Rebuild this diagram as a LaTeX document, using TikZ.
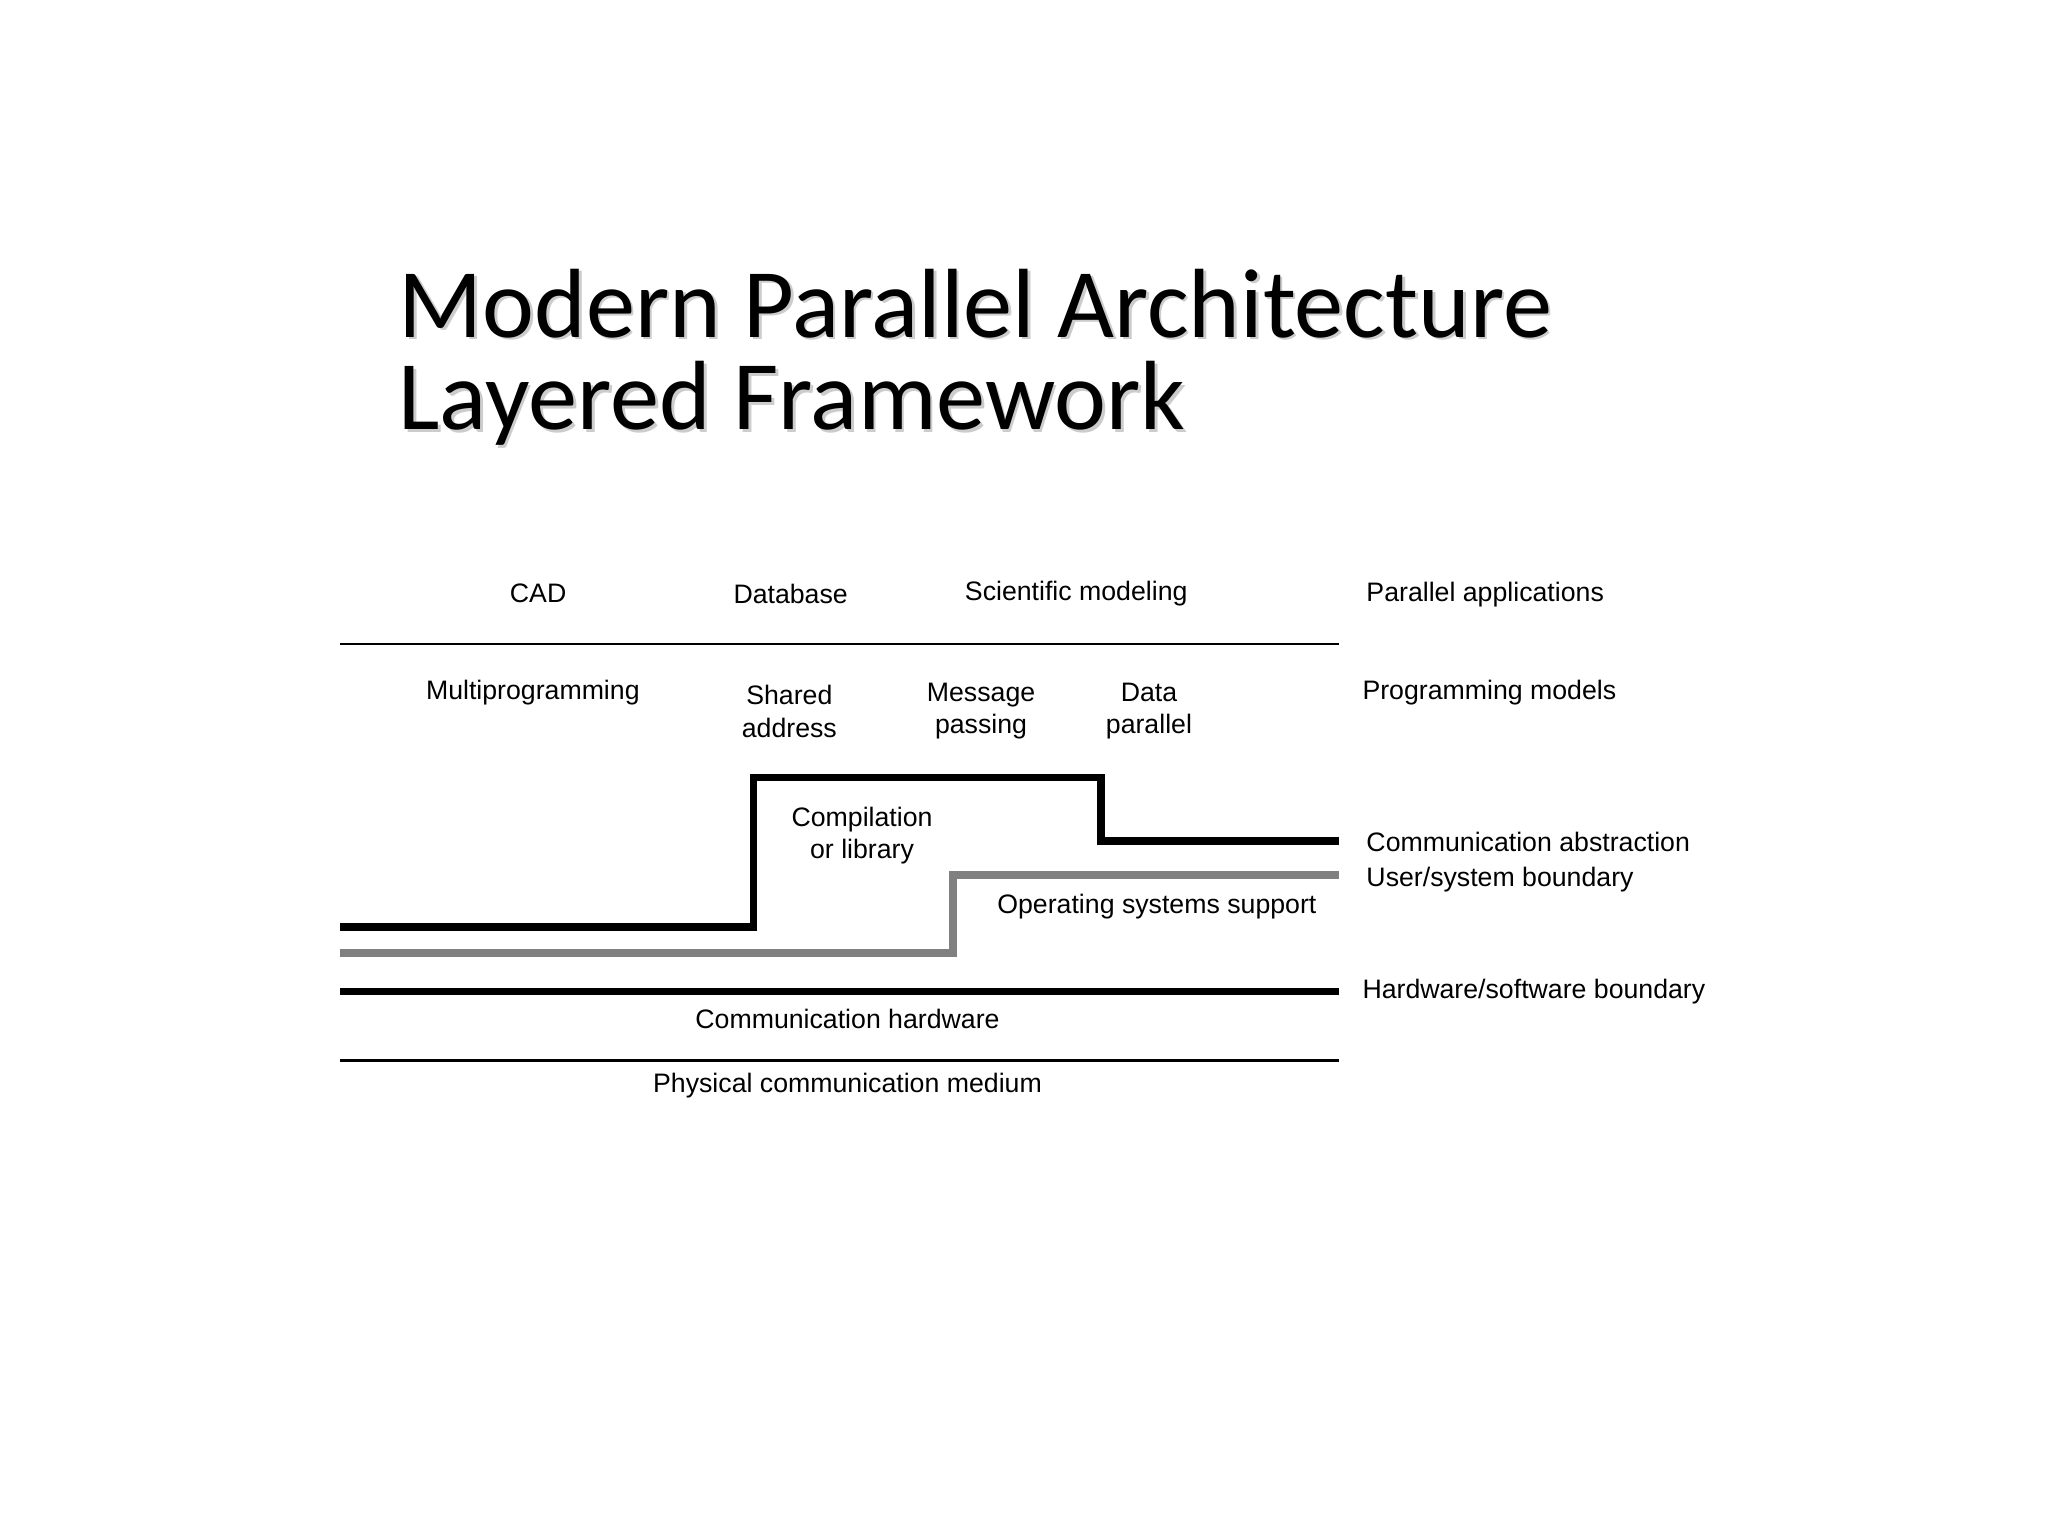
\documentclass[tikz,border=0pt]{standalone}
\usepackage{fontspec}
\setmainfont{Liberation Sans}
\newfontfamily\titlefont{Carlito}
\begin{document}
\begin{tikzpicture}[x=0.013222cm,y=-0.013222cm,
  lbl/.style={font=\fontsize{7.6pt}{9.2pt}\selectfont,inner sep=0pt,align=center},
  lbll/.style={lbl,anchor=west,align=left},
  thin/.style={line width=0.7pt},
  thick/.style={line width=2.2pt},
  grayline/.style={line width=2.2pt,draw={rgb,255:red,128;green,128;blue,128}},
  ttl/.style={font=\titlefont\fontsize{28pt}{32pt}\selectfont,anchor=base west,inner sep=0pt}]
\useasboundingbox (0,0) rectangle (1549,1162);
% title with shadow
\node[ttl,text=black!20] at (303,257) {Modern Parallel Architecture};
\node[ttl,text=black!20] at (303,327) {Layered Framework};
\node[ttl] (t1) at (301,255) {Modern Parallel Architecture};
\node[ttl] (t2) at (301,325) {Layered Framework};
% lines
\draw[thin] (257,487) -- (1013,487);
\draw[thick] (257,701) -- (570,701) -- (570,588) -- (833,588) -- (833,636) -- (1013,636);
\draw[grayline] (257,721) -- (721,721) -- (721,662) -- (1013,662);
\draw[thick] (257,750) -- (1013,750);
\draw[thin] (257,802) -- (1013,802);
% labels
\node[lbl] (cad) at (407,449) {CAD};
\node[lbl] (db) at (598,449) {Database};
\node[lbl] (sci) at (814,449) {Scientific modeling};
\node[lbll] (pa) at (1033,450) {Parallel applications};
\node[lbl] (mp) at (403,524) {Multiprogramming};
\node[lbl] (sa) at (597,538) {Shared\\address};
\node[lbl] (msg) at (742,538) {Message\\passing};
\node[lbl] (dp) at (869,538) {Data\\parallel};
\node[lbll] (pm) at (1030,524) {Programming models};
\node[lbl] (cl) at (652,632) {Compilation\\or library};
\node[lbl] (os) at (875,686) {Operating systems support};
\node[lbll] (ca) at (1033,637) {Communication abstraction};
\node[lbll] (us) at (1033,665) {User/system boundary};
\node[lbll] (hs) at (1030,750) {Hardware/software boundary};
\node[lbl] (ch) at (641,771) {Communication hardware};
\node[lbl] (pc) at (641,821) {Physical communication medium};
\end{tikzpicture}
\end{document}
